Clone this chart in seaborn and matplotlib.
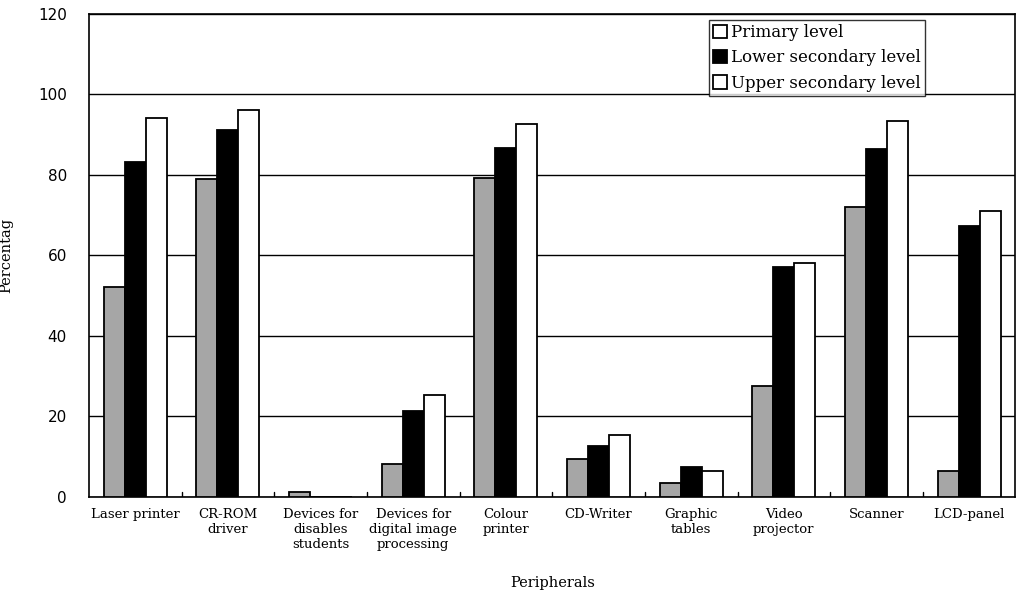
import matplotlib.pyplot as plt
import pandas as pd
import seaborn as sns

# peripherals on the x axis
categories = ["Laser printer", "CR-ROM\ndriver", "Devices for\ndisables\nstudents",
              "Devices for\ndigital image\nprocessing", "Colour\nprinter", "CD-Writer",
              "Graphic\ntables", "Video\nprojector", "Scanner", "LCD-panel"]
levels = ["Primary level", "Lower secondary level", "Upper secondary level"]

primary = [52, 79, 1.2, 8.2, 79.3, 9.4, 3.4, 27.6, 72, 6.5]
lower_sec = [83.2, 91.2, 0, 21.2, 86.6, 12.5, 7.4, 57.2, 86.4, 67.2]
upper_sec = [94.1, 96.1, 0, 25.2, 92.6, 15.4, 6.5, 58.1, 93.3, 71.1]

yticks = [0, 20, 40, 60, 80, 100, 120]

#table longue pour seaborn
rows = []
for serie, vals in zip(levels, [primary, lower_sec, upper_sec]):
    for c, v in zip(categories, vals):
        rows.append({"cat": c, "level": serie, "pct": v})
df = pd.DataFrame(rows)

sns.set_style("white")
plt.rcParams['font.family'] = ['DejaVu Serif']
plt.rcParams['text.color'] = 'black'
plt.rcParams['xtick.color'] = 'black'
plt.rcParams['ytick.color'] = 'black'
plt.rcParams['axes.labelcolor'] = 'black'

fig = plt.figure(figsize=(10.17, 5.95), dpi=100)
ax = fig.add_axes([0.0875, 0.165, 0.911, 0.812])

sns.barplot(data=df, x="cat", y="pct", hue="level", order=categories, hue_order=levels,
            palette=["#a6a6a6", "black", "white"], edgecolor="black", linewidth=1.3,
            width=0.68, saturation=1, ax=ax, zorder=3)

ax.set_ylim(0, 120)
ax.set_xlim(-0.5, len(categories) - 0.5)
ax.set_yticks(yticks)
ax.set_yticklabels([str(t) for t in yticks], fontsize=11, family="DejaVu Sans")
ax.tick_params(axis="y", length=0, pad=16)
ax.tick_params(axis="x", length=0, pad=8, labelsize=9.5)
ax.yaxis.grid(True, color="black", linewidth=1.0, zorder=0)
ax.set_axisbelow(True)

#petites graduations entre categories
for i in range(len(categories) - 1):
    ax.plot([i + 0.5, i + 0.5], [0, 1.2], color="black", linewidth=1, zorder=4)

for s in ax.spines.values():
    s.set_color("black")
    s.set_linewidth(1.2)

ax.set_xlabel("Peripherals", fontsize=10.5, labelpad=18)
ax.set_ylabel("Percentag", fontsize=10.5, labelpad=18)

leg = ax.legend(loc="upper left", bbox_to_anchor=(0.669, 0.987), frameon=True, fancybox=False,
                edgecolor="black", fontsize=12, handlelength=0.85, handleheight=0.85,
                handletextpad=0.25, borderpad=0.25, labelspacing=0.5, borderaxespad=0)
leg.get_frame().set_linewidth(1.0)
leg.legend_handles[0].set_facecolor("white")

fig.savefig("out.png", dpi=100)
